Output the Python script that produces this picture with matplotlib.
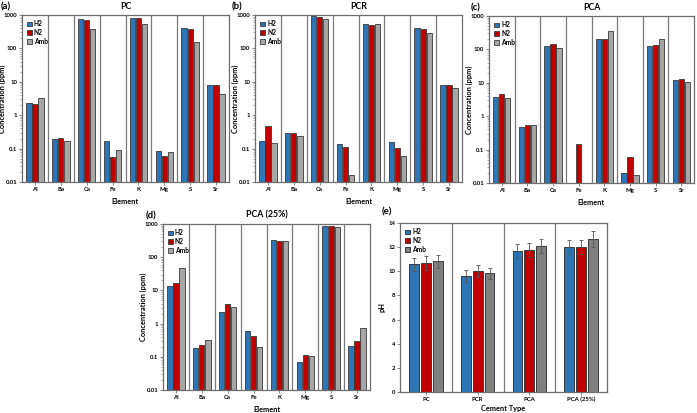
import numpy as np
import matplotlib.pyplot as plt
from matplotlib.ticker import FixedLocator, LogLocator, NullFormatter
plt.switch_backend('agg')

plt.rcParams['font.family'] = ['Lato', 'DejaVu Sans']

elements = ['Al', 'Ba', 'Ca', 'Fe', 'K', 'Mg', 'S', 'Sr']
series = ['H2', 'N2', 'Amb']

# concentrations (ppm), order follows elements
pc_h2 = [2.3, 0.195, 750, 0.17, 830, 0.085, 420, 8.1]
pc_n2 = [2.2, 0.21, 700, 0.056, 830, 0.059, 390, 7.8]
pc_amb = [3.3, 0.165, 380, 0.09, 520, 0.077, 160, 4.2]

pcr_h2 = [0.166, 0.30, 950, 0.138, 525, 0.16, 420, 8.3]
pcr_n2 = [0.48, 0.30, 890, 0.11, 510, 0.107, 390, 8.3]
pcr_amb = [0.15, 0.245, 760, 0.016, 550, 0.062, 280, 6.4]

pca_h2 = [3.7, 0.49, 130, 0.0102, 200, 0.020, 128, 12.0]
pca_n2 = [4.5, 0.54, 145, 0.145, 200, 0.059, 138, 12.8]
pca_amb = [3.4, 0.55, 107, 0.0102, 350, 0.017, 200, 10.8]

pca25_h2 = [13.5, 0.178, 2.2, 0.60, 340, 0.069, 890, 0.214]
pca25_n2 = [17, 0.22, 3.8, 0.41, 310, 0.115, 890, 0.29]
pca25_amb = [46, 0.32, 3.2, 0.20, 300, 0.105, 810, 0.72]

cements = ['PC', 'PCR', 'PCA', 'PCA (25%)']
ph_h2 = [10.59, 9.62, 11.70, 12.00]
ph_n2 = [10.70, 10.00, 11.75, 12.00]
ph_amb = [10.84, 9.84, 12.09, 12.67]
ph_h2_err = [0.53, 0.47, 0.60, 0.60]
ph_n2_err = [0.60, 0.50, 0.60, 0.60]
ph_amb_err = [0.55, 0.47, 0.58, 0.64]

blue = '#2e75b6'
red = '#c00000'
lgray = '#a6a6a6'
dgray = '#808080'
edge = '#3a3a3a'

W, H = 697, 413
fig = plt.figure(figsize=(W / 100, H / 100), dpi=100)


def box(x0, y0, x1, y1):
    return [x0 / W, 1 - y1 / H, (x1 - x0) / W, (y1 - y0) / H]


def style_axes(ax, rect, ylab_off, xlab_off):
    for s in ax.spines.values():
        s.set_color('#6e6e6e')
        s.set_linewidth(0.9)
    ax.tick_params(labelsize=4.3, length=2, width=0.6, color='#6e6e6e', pad=1.5)
    for lab in ax.get_xticklabels() + ax.get_yticklabels():
        lab.set_fontweight('bold')
    w = rect[2] - rect[0]
    h = rect[3] - rect[1]
    ax.yaxis.set_label_coords(-ylab_off / w, 0.5)
    ax.xaxis.set_label_coords(0.5, -xlab_off / h)
    ax.legend(loc='upper left', frameon=False, handlelength=0.7,
              handleheight=0.7, handletextpad=0.3, labelspacing=0.25,
              borderaxespad=0.4, prop={'weight': 'bold', 'size': 4.8})


def conc_panel(rect, h2, n2, amb, title, tag, tagx):
    ax = fig.add_axes(box(*rect))
    x = np.arange(len(elements))
    w = 0.205
    d = 0.235
    for off, vals, c, lab in [(-d, h2, blue, 'H2'), (0, n2, red, 'N2'), (d, amb, lgray, 'Amb')]:
        ax.bar(x + off, vals, w, color=c, edgecolor=edge, linewidth=0.6, label=lab)
    ax.set_yscale('log')
    ax.set_ylim(0.01, 1000)
    ax.set_xlim(-0.5, len(elements) - 0.5)
    ax.yaxis.set_major_locator(FixedLocator([0.01, 0.1, 1, 10, 100, 1000]))
    ax.set_yticklabels(['0.01', '0.1', '1', '10', '100', '1000'])
    ax.yaxis.set_minor_locator(LogLocator(base=10, subs=np.arange(2, 10)))
    ax.yaxis.set_minor_formatter(NullFormatter())
    ax.tick_params(axis='y', which='minor', length=1.2, width=0.4, color='#6e6e6e')
    ax.set_xticks(x)
    ax.set_xticklabels(elements)
    for b in np.arange(0.5, len(elements) - 0.5):
        ax.axvline(b, color='#7a7a7a', linewidth=0.9)
    ax.set_xlabel('Element', fontsize=5.3, fontweight='bold')
    ax.set_ylabel('Concentration (ppm)', fontsize=5.3, fontweight='bold')
    ax.set_title(title, fontsize=6.3, fontweight='bold', pad=4.5)
    style_axes(ax, rect, 16, 16)
    fig.text(tagx / W, 1 - (rect[1] - 8) / H, tag, fontsize=6.8, fontweight='bold',
             va='center', ha='left')
    return ax


conc_panel((22, 15, 229, 182), pc_h2, pc_n2, pc_amb, 'PC', '(a)', 1)
conc_panel((255, 15, 462, 182), pcr_h2, pcr_n2, pcr_amb, 'PCR', '(b)', 232)
conc_panel((489, 16, 694, 183), pca_h2, pca_n2, pca_amb, 'PCA', '(c)', 471)
conc_panel((163, 224, 370, 390), pca25_h2, pca25_n2, pca25_amb, 'PCA (25%)', '(d)', 146)

# pH panel
rect = (400, 223, 607, 392)
ax = fig.add_axes(box(*rect))
x = np.arange(len(cements))
w = 0.19
d = 0.23
ek = dict(ecolor='#555555', elinewidth=0.6, capsize=1.3, capthick=0.6)
ax.bar(x - d, ph_h2, w, yerr=ph_h2_err, color=blue, edgecolor=edge, linewidth=0.7, label='H2', error_kw=ek)
ax.bar(x, ph_n2, w, yerr=ph_n2_err, color=red, edgecolor=edge, linewidth=0.7, label='N2', error_kw=ek)
ax.bar(x + d, ph_amb, w, yerr=ph_amb_err, color=dgray, edgecolor=edge, linewidth=0.7, label='Amb', error_kw=ek)
ax.set_ylim(0, 14)
ax.set_yticks(range(0, 15, 2))
ax.set_xlim(-0.5, len(cements) - 0.5)
ax.set_xticks(x)
ax.set_xticklabels(cements)
for b in np.arange(0.5, len(cements) - 0.5):
    ax.axvline(b, color='#7a7a7a', linewidth=0.9)
ax.set_xlabel('Cement Type', fontsize=5.3, fontweight='bold')
ax.set_ylabel('pH', fontsize=5.3, fontweight='bold')
style_axes(ax, rect, 14, 13)
fig.text(382 / W, 1 - 212 / H, '(e)', fontsize=6.8, fontweight='bold', va='center', ha='left')

fig.savefig('out.png', dpi=100)
